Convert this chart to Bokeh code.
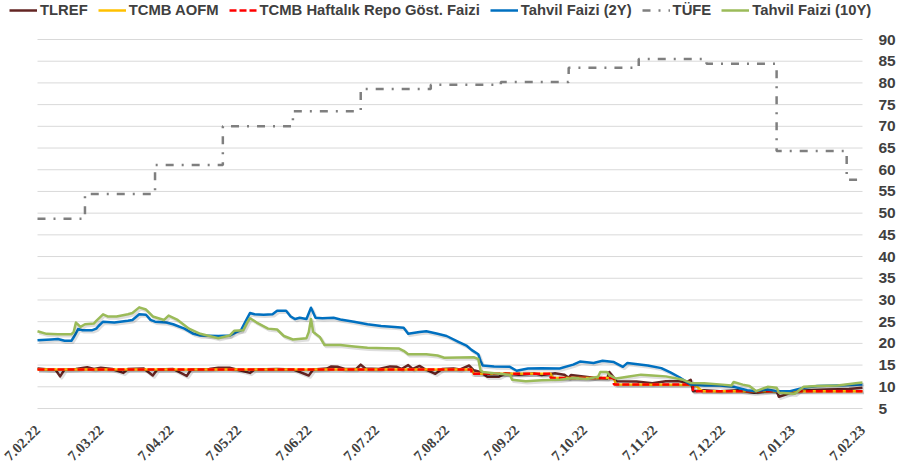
import math
import pandas as pd
from bokeh.plotting import figure
from bokeh.models import ColumnDataSource, FixedTicker, Legend, LegendItem, Range1d, LabelSet
from bokeh.transform import dodge
from bokeh.embed import file_html
from bokeh.resources import INLINE

START = "2022-02-07"

tick_dates = ["2022-02-07", "2022-03-07", "2022-04-07", "2022-05-07", "2022-06-07",
              "2022-07-07", "2022-08-07", "2022-09-07", "2022-10-07", "2022-11-07",
              "2022-12-07", "2023-01-07", "2023-02-07"]
tick_labels = ["7.02.22", "7.03.22", "7.04.22", "7.05.22", "7.06.22", "7.07.22", "7.08.22",
               "7.09.22", "7.10.22", "7.11.22", "7.12.22", "7.01.23", "7.02.23"]
y_ticks = [5, 10, 15, 20, 25, 30, 35, 40, 45, 50, 55, 60, 65, 70, 75, 80, 85, 90]

# TLREF
tlref_dates = ["2022-02-07", "2022-02-12", "2022-02-15", "2022-02-17", "2022-02-19", "2022-02-24",
               "2022-03-01", "2022-03-04", "2022-03-07", "2022-03-12", "2022-03-17", "2022-03-19",
               "2022-03-26", "2022-03-30", "2022-04-01", "2022-04-08", "2022-04-14", "2022-04-16",
               "2022-04-24", "2022-04-28", "2022-05-03", "2022-05-06", "2022-05-12", "2022-05-14",
               "2022-05-24", "2022-05-31", "2022-06-07", "2022-06-09", "2022-06-15", "2022-06-17",
               "2022-06-20", "2022-06-23", "2022-06-28", "2022-06-30", "2022-07-02", "2022-07-08",
               "2022-07-13", "2022-07-16", "2022-07-18", "2022-07-21", "2022-07-23", "2022-07-26",
               "2022-07-28", "2022-08-02", "2022-08-05", "2022-08-10", "2022-08-13", "2022-08-17",
               "2022-08-19", "2022-08-22", "2022-08-25", "2022-08-30", "2022-09-02", "2022-09-08",
               "2022-09-15", "2022-09-18", "2022-09-24", "2022-09-28", "2022-09-30", "2022-10-01",
               "2022-10-11", "2022-10-17", "2022-10-18", "2022-10-20", "2022-10-21", "2022-10-30",
               "2022-11-06", "2022-11-12", "2022-11-18", "2022-11-21", "2022-11-23", "2022-11-24",
               "2022-11-29", "2022-12-06", "2022-12-14", "2022-12-21", "2022-12-28", "2022-12-31",
               "2023-01-01", "2023-01-04", "2023-01-08", "2023-01-14", "2023-01-23", "2023-02-01",
               "2023-02-07"]
tlref_vals = [14.2, 14.0, 13.9, 12.4, 14.0, 14.1,
              14.5, 14.1, 14.4, 14.1, 13.2, 14.1,
              14.2, 12.6, 14.0, 14.1, 12.5, 14.0,
              14.1, 14.4, 14.4, 14.0, 13.2, 14.0,
              14.1, 14.0, 12.6, 14.0, 14.2, 14.7,
              14.6, 14.1, 14.1, 15.1, 14.2, 14.1,
              14.7, 14.6, 14.1, 15.0, 14.1, 14.8,
              14.2, 13.0, 14.1, 14.2, 14.0, 14.9,
              13.8, 13.4, 12.3, 12.3, 13.1, 12.8,
              13.1, 12.7, 13.1, 12.8, 12.1, 12.7,
              12.1, 11.9, 13.4, 12.1, 11.3, 11.2,
              10.8, 11.3, 11.3, 11.0, 11.6, 9.0,
              9.2, 9.0, 9.2, 8.6, 9.0, 9.0,
              7.7, 8.2, 9.0, 9.2, 9.4, 9.5,
              9.8]

# TCMB AOFM
aofm_dates = ["2022-02-07", "2022-08-18", "2022-08-19", "2022-09-22", "2022-09-23",
              "2022-10-20", "2022-10-21", "2022-11-25", "2022-11-28", "2023-02-07"]
aofm_vals = [14.0, 14.0, 13.0, 13.0, 12.0, 12.0, 10.5, 10.4, 9.0, 9.0]

# TCMB haftalık repo (policy rate, step after each date)
repo_dates = ["2022-02-07", "2022-08-18", "2022-09-22", "2022-10-20", "2022-11-24", "2023-02-07"]
repo_vals = [14.0, 13.0, 12.0, 10.5, 9.0, 9.0]

# Tahvil Faizi (2Y)
y2_dates = ["2022-02-07", "2022-02-13", "2022-02-16", "2022-02-19", "2022-02-22", "2022-02-23",
            "2022-02-25", "2022-02-27", "2022-03-03", "2022-03-05", "2022-03-06", "2022-03-08",
            "2022-03-13", "2022-03-19", "2022-03-21", "2022-03-24", "2022-03-27", "2022-03-29",
            "2022-03-31", "2022-04-05", "2022-04-08", "2022-04-13", "2022-04-17", "2022-04-20",
            "2022-04-28", "2022-05-03", "2022-05-06", "2022-05-08", "2022-05-10", "2022-05-12",
            "2022-05-14", "2022-05-18", "2022-05-22", "2022-05-24", "2022-05-28", "2022-05-30",
            "2022-06-01", "2022-06-03", "2022-06-06", "2022-06-08", "2022-06-10", "2022-06-13",
            "2022-06-18", "2022-06-21", "2022-06-27", "2022-07-03", "2022-07-09", "2022-07-15",
            "2022-07-19", "2022-07-21", "2022-07-26", "2022-07-29", "2022-08-03", "2022-08-07",
            "2022-08-12", "2022-08-16", "2022-08-18", "2022-08-21", "2022-08-22", "2022-08-23",
            "2022-08-28", "2022-09-04", "2022-09-07", "2022-09-12", "2022-09-18", "2022-09-26",
            "2022-10-02", "2022-10-05", "2022-10-11", "2022-10-15", "2022-10-20", "2022-10-24",
            "2022-10-26", "2022-11-04", "2022-11-10", "2022-11-14", "2022-11-18", "2022-11-23",
            "2022-11-29", "2022-12-06", "2022-12-12", "2022-12-18", "2022-12-22", "2022-12-27",
            "2022-12-31", "2023-01-06", "2023-01-12", "2023-01-18", "2023-01-27", "2023-02-07"]
y2_vals = [20.7, 20.9, 21.0, 20.6, 20.6, 21.4,
           23.3, 23.0, 23.0, 23.4, 24.0, 25.0,
           24.8, 25.2, 25.4, 26.7, 26.6, 25.4,
           25.0, 24.8, 24.4, 23.4, 22.2, 21.8,
           21.7, 21.8, 22.6, 23.0, 25.0, 27.0,
           26.7, 26.6, 26.7, 27.5, 27.5, 26.2,
           25.6, 25.9, 25.6, 28.2, 25.9, 25.8,
           25.9, 25.5, 25.0, 24.4, 24.0, 23.8,
           23.6, 22.2, 22.6, 22.8, 22.2, 21.7,
           20.4, 19.4, 18.5, 17.5, 16.0, 14.9,
           14.7, 14.6, 13.7, 14.2, 14.3, 14.2,
           15.1, 15.8, 15.5, 16.0, 15.7, 14.6,
           15.5, 14.9, 14.3, 13.3, 12.2, 10.5,
           10.3, 10.3, 10.0, 9.2, 9.0, 9.4,
           9.0, 9.0, 9.8, 10.2, 10.3, 10.5]

# TÜFE (monthly, step after month end)
tufe_dates = ["2022-02-07", "2022-02-28", "2022-03-31", "2022-04-30", "2022-05-31", "2022-06-30",
              "2022-07-31", "2022-08-31", "2022-09-30", "2022-10-31", "2022-11-30", "2022-12-31",
              "2023-01-31", "2023-02-07"]
tufe_vals = [48.7, 54.4, 61.1, 70.0, 73.5, 78.6, 79.6, 80.2, 83.5, 85.5, 84.4, 64.3, 57.7, 57.7]

# Tahvil Faizi (10Y)
y10_dates = ["2022-02-07", "2022-02-11", "2022-02-16", "2022-02-22", "2022-02-23", "2022-02-24",
             "2022-02-26", "2022-02-28", "2022-03-04", "2022-03-05", "2022-03-08", "2022-03-10",
             "2022-03-14", "2022-03-19", "2022-03-21", "2022-03-24", "2022-03-27", "2022-03-30",
             "2022-04-04", "2022-04-06", "2022-04-10", "2022-04-15", "2022-04-20", "2022-04-28",
             "2022-05-03", "2022-05-05", "2022-05-09", "2022-05-11", "2022-05-12", "2022-05-15",
             "2022-05-20", "2022-05-24", "2022-05-27", "2022-05-31", "2022-06-06", "2022-06-07",
             "2022-06-08", "2022-06-09", "2022-06-12", "2022-06-14", "2022-06-21", "2022-06-27",
             "2022-07-03", "2022-07-11", "2022-07-17", "2022-07-19", "2022-07-21", "2022-07-29",
             "2022-08-03", "2022-08-06", "2022-08-19", "2022-08-21", "2022-08-22", "2022-08-23",
             "2022-08-28", "2022-09-04", "2022-09-05", "2022-09-11", "2022-09-18", "2022-09-26",
             "2022-10-02", "2022-10-08", "2022-10-13", "2022-10-14", "2022-10-17", "2022-10-18",
             "2022-10-20", "2022-10-21", "2022-10-26", "2022-11-01", "2022-11-06", "2022-11-12",
             "2022-11-18", "2022-11-19", "2022-11-23", "2022-11-29", "2022-12-07", "2022-12-11",
             "2022-12-12", "2022-12-16", "2022-12-19", "2022-12-22", "2022-12-27", "2022-12-31",
             "2023-01-01", "2023-01-08", "2023-01-12", "2023-01-18", "2023-01-27", "2023-02-04",
             "2023-02-07"]
y10_vals = [22.8, 22.2, 22.1, 22.1, 22.6, 24.8,
            23.8, 24.4, 24.6, 25.2, 26.7, 26.2,
            26.2, 26.7, 27.0, 28.3, 27.8, 26.2,
            25.4, 26.4, 25.4, 23.4, 22.2, 21.2,
            21.8, 22.9, 23.0, 25.0, 25.8, 24.8,
            23.4, 23.2, 21.7, 20.9, 21.2, 22.6,
            25.6, 22.6, 21.4, 19.6, 19.6, 19.3,
            19.0, 18.9, 18.8, 18.3, 17.5, 17.5,
            17.2, 16.7, 16.8, 16.4, 13.8, 13.4,
            13.1, 12.8, 11.6, 11.3, 11.5, 11.6,
            12.0, 11.8, 12.3, 13.4, 13.4, 12.7,
            12.1, 11.9, 12.3, 12.8, 12.6, 12.4,
            11.8, 11.7, 10.9, 10.8, 10.5, 10.3,
            11.1, 10.5, 10.2, 9.0, 10.0, 9.8,
            8.6, 8.4, 10.0, 10.2, 10.3, 10.8,
            11.0]


def days(dates):
    t0 = pd.Timestamp(START)
    return [(pd.Timestamp(d) - t0).days for d in dates]


def src(dates, vals):
    return ColumnDataSource(dict(x=days(dates), y=vals))


FONT = "Liberation Sans"
TXT = "#404040"

W, H = 898, 473
LEFT_PAD, RIGHT_PAD = 37, 36          # px from figure edges to first/last date
TOP_PAD, BOTTOM_PAD = 39, 65          # px from figure edges to the 90 / 5 gridlines
EXTRA_R = 16                           # extra frame room right of the last date

tick_days = days(tick_dates)
x0, x1 = tick_days[0], tick_days[-1]
y0, y1 = y_ticks[0], y_ticks[-1]
dpp_x = (x1 - x0) / (W - RIGHT_PAD - LEFT_PAD)
dpp_y = (y1 - y0) / (H - TOP_PAD - BOTTOM_PAD)

p = figure(width=W, height=H,
           x_range=Range1d(x0 - LEFT_PAD * dpp_x, x1 + EXTRA_R * dpp_x),
           y_range=Range1d(y0 - BOTTOM_PAD * dpp_y, y1 + TOP_PAD * dpp_y),
           y_axis_location="right", output_backend="svg", toolbar_location=None,
           min_border_left=0, min_border_right=RIGHT_PAD - EXTRA_R,
           min_border_top=0, min_border_bottom=0,
           background_fill_color="white", border_fill_color="white")
p.outline_line_color = None
p.xgrid.visible = False
p.ygrid.visible = False
p.xaxis.visible = False

# horizontal gridlines spanning the date range
p.segment(x0=[x0] * len(y_ticks), x1=[x1] * len(y_ticks), y0=y_ticks, y1=y_ticks,
          line_color="#D9D9D9", line_width=1)

p.yaxis.ticker = FixedTicker(ticks=y_ticks)
p.yaxis.axis_line_color = None
p.yaxis.major_tick_line_color = None
p.yaxis.minor_tick_line_color = None
p.yaxis.major_tick_out = 0
p.yaxis.major_tick_in = 0
p.yaxis.minor_tick_out = 0
p.yaxis.major_label_standoff = 16 - EXTRA_R
p.yaxis.major_label_text_font = FONT
p.yaxis.major_label_text_font_style = "bold"
p.yaxis.major_label_text_font_size = "15.5px"
p.yaxis.major_label_text_color = TXT

# rotated date labels
lab_src = ColumnDataSource(dict(x=tick_days, y=[y0] * len(tick_days), text=tick_labels))
p.add_layout(LabelSet(x="x", y="y", text="text", source=lab_src, angle=math.pi / 4,
                      y_offset=-19, text_align="right", text_baseline="middle",
                      text_font=FONT, text_font_style="bold", text_font_size="14.5px",
                      text_color=TXT))

series = [
    ("TLREF", tlref_dates, tlref_vals, "#632523", None, "line"),
    ("TCMB AOFM", aofm_dates, aofm_vals, "#FFC000", None, "line"),
    ("TCMB Haftalık Repo Göst. Faizi", repo_dates, repo_vals, "#FF0000", "7 3", "step"),
    ("Tahvil Faizi (2Y)", y2_dates, y2_vals, "#0070C0", None, "line"),
    ("TÜFE", tufe_dates, tufe_vals, "#7F7F7F", "8 8 2 8", "step"),
    ("Tahvil Faizi (10Y)", y10_dates, y10_vals, "#9BBB59", None, "line"),
]

items = []
for name, dts, vals, color, dash, kind in series:
    s = src(dts, vals)
    if name != "TÜFE":
        sx = dodge("x", 0.7, range=p.x_range)
        sy = dodge("y", -0.4, range=p.y_range)
        if kind == "step":
            p.step(x=sx, y=sy, source=s, mode="after", line_color="#000000",
                   line_alpha=0.13, line_width=3)
        else:
            p.line(x=sx, y=sy, source=s, line_color="#000000", line_alpha=0.13,
                   line_width=3, line_join="round")
    kw = dict(source=s, line_color=color, line_width=2.5)
    if dash:
        kw["line_dash"] = dash
    if kind == "step":
        r = p.step(x="x", y="y", mode="after", **kw)
    else:
        r = p.line(x="x", y="y", line_join="round", **kw)
    items.append(LegendItem(label=name, renderers=[r]))

legend = Legend(items=items, orientation="horizontal", location=(9, H - 18),
                glyph_width=28, glyph_height=14, label_height=14, label_standoff=3,
                spacing=10, padding=0, margin=0, border_line_color=None,
                background_fill_alpha=0, label_text_font=FONT,
                label_text_font_style="bold", label_text_font_size="14.8px",
                label_text_color=TXT)
p.add_layout(legend, "center")

open("out.html", "w").write(file_html(p, INLINE))
